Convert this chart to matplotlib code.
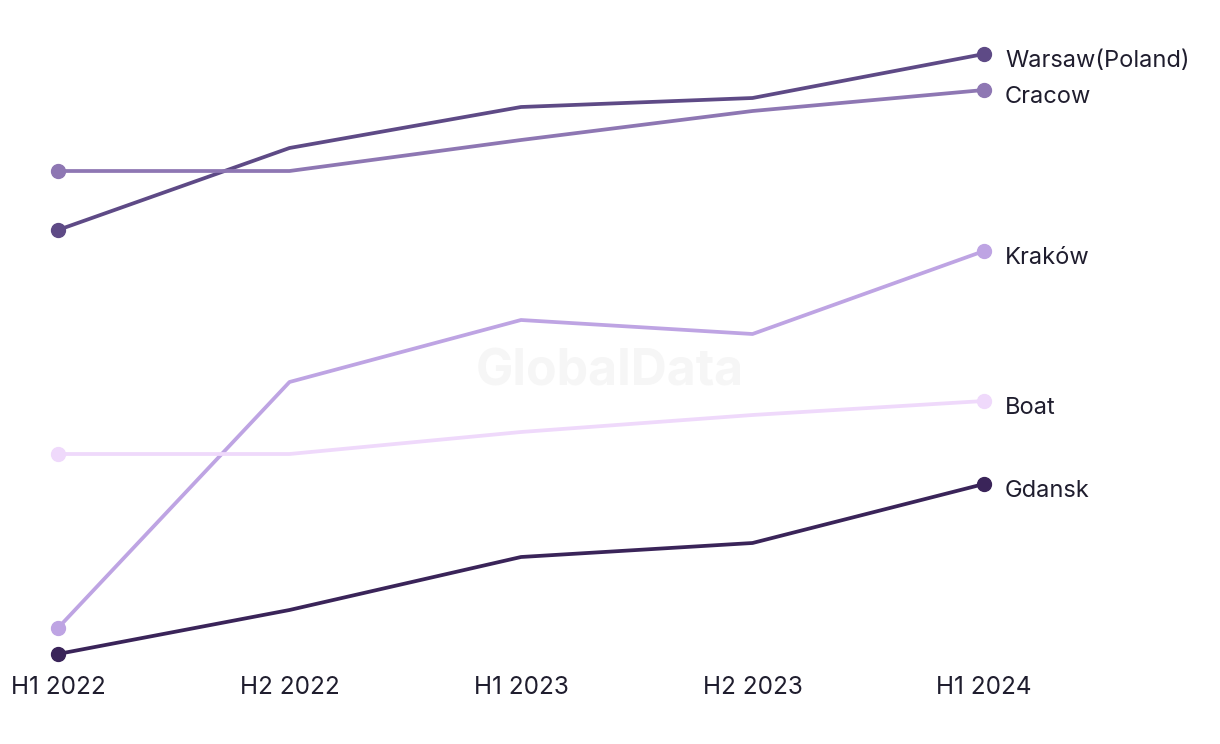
import numpy as np
from matplotlib import pyplot as plt

# Periods and series (no y-axis shown, values are relative)
periods = ["H1 2022", "H2 2022", "H1 2023", "H2 2023", "H1 2024"]
warsaw = [47.0, 55.2, 59.3, 60.2, 64.6]
cracow = [52.9, 52.9, 56.0, 58.9, 61.0]
krakow = [7.2, 31.8, 38.0, 36.6, 44.9]
boat = [24.6, 24.6, 26.8, 28.5, 29.9]
gdansk = [4.6, 9.0, 14.3, 15.7, 21.6]

series = [
    ("Warsaw(Poland)", warsaw, "#5e4a86"),
    ("Cracow", cracow, "#8e77b3"),
    ("Kraków", krakow, "#bea4e3"),
    ("Boat", boat, "#efd9fb"),
    ("Gdansk", gdansk, "#3a2459"),
]

plt.rcParams['font.family'] = ['Inter', 'DejaVu Sans']
text_col = "#1f1d2e"

fig = plt.figure(figsize=(12.2, 7.44), dpi=100)
ax = fig.add_axes([58 / 1220, 90 / 744, 926 / 1220, 600 / 744])
x = np.arange(len(periods))

for name, vals, col in series:
    ax.plot(x, vals, color=col, lw=2.7, solid_capstyle='round', clip_on=False)
    ax.plot([x[0], x[-1]], [vals[0], vals[-1]], 'o', color=col, ms=10,
            clip_on=False, zorder=5)
    ax.annotate(name, (x[-1], vals[-1]), xytext=(21, -7),
                textcoords='offset pixels', va='center', ha='left',
                fontsize=17, color=text_col)

ax.text(0.5, 0.5, "GlobalData", transform=fig.transFigure, ha='center',
        va='center', fontsize=36, fontweight='bold', color='#f6f6f6',
        zorder=0)

ax.set_xlim(0, 4)
ax.set_ylim(4.6, 64.6)
ax.set_xticks(x)
ax.set_xticklabels(periods, fontsize=17.5, color=text_col)
ax.tick_params(axis='x', length=0, pad=16)
ax.set_yticks([])
for s in ax.spines.values():
    s.set_visible(False)

plt.savefig("out.png", dpi=100)
